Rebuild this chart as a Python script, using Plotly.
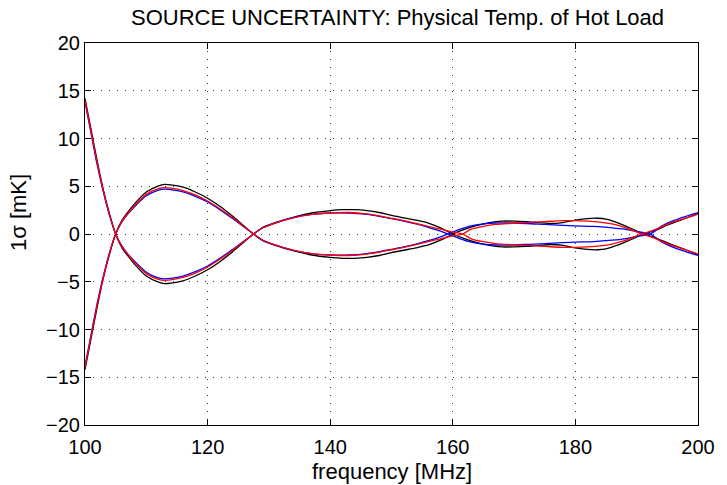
import plotly.graph_objects as go

# ---- data (upper branch; the lower branch is its mirror) ----
freq_black = [100, 101, 102, 103, 104, 105, 106, 107, 108, 110, 112, 113, 114, 116, 118, 120, 122, 124, 126, 127.5,
              129, 131, 134, 137, 140, 142, 144, 146, 148, 150, 152, 154, 156, 158, 160,
              162, 164, 166, 168, 170, 172, 174, 176, 178, 180, 182, 183.6, 185, 187, 189, 191.2,
              193, 195.5, 198, 200]
amp_black = [14.2, 10.9, 7.6, 4.6, 2.1, 0, -1.4, -2.3, -3.1, -4.4, -5.05, -5.2, -5.15, -4.9, -4.4, -3.75, -2.9, -1.9, -0.8, 0,
             0.65, 1.15, 1.75, 2.2, 2.45, 2.55, 2.55, 2.45, 2.25, 1.95, 1.7, 1.45, 1.15, 0.65, 0,
             -0.5, -0.9, -1.2, -1.35, -1.35, -1.3, -1.2, -1.1, -1.2, -1.45, -1.62, -1.65, -1.55, -1.15, -0.6, 0,
             0.4, 1.05, 1.65, 2.15]

freq_red = [100, 101, 102, 103, 104, 105, 106, 107, 108, 110, 112, 113, 114, 116, 118, 120, 122, 124, 126, 127.5,
            129, 131, 134, 137, 140, 143, 146, 148, 150, 152, 154, 156, 158, 160, 161.6,
            163, 165, 167, 169, 172, 175, 178, 180, 182, 184, 186, 188, 190.8,
            193, 195.5, 198, 200]
amp_red = [14.0, 10.7, 7.4, 4.5, 2.0, 0, -1.3, -2.15, -2.9, -4.15, -4.75, -4.85, -4.8, -4.55, -4.1, -3.45, -2.65, -1.75, -0.75, 0,
           0.65, 1.15, 1.7, 2.05, 2.2, 2.25, 2.1, 1.9, 1.65, 1.4, 1.1, 0.8, 0.5, 0.2, 0,
           -0.5, -0.8, -1.0, -1.1, -1.2, -1.3, -1.4, -1.4, -1.35, -1.25, -1.05, -0.7, 0,
           0.45, 1.15, 1.65, 2.1]

freq_blue = [100, 101, 102, 103, 104, 105, 106, 107, 108, 110, 112, 113, 114, 116, 118, 120, 122, 124, 126, 127.5,
             129, 131, 134, 137, 140, 143, 146, 148, 150, 152, 154, 156, 158, 159.2,
             161, 163, 165, 167, 169, 172, 175, 178, 180, 183, 186, 188, 190, 192.2,
             194, 196, 198, 200]
amp_blue = [13.8, 10.5, 7.2, 4.4, 1.95, 0, -1.25, -2.1, -2.8, -4.0, -4.6, -4.7, -4.65, -4.4, -3.95, -3.35, -2.55, -1.65, -0.7, 0,
            0.7, 1.2, 1.75, 2.05, 2.2, 2.2, 2.05, 1.85, 1.6, 1.35, 1.05, 0.7, 0.3, 0,
            -0.45, -0.85, -1.05, -1.15, -1.15, -1.1, -1.0, -0.9, -0.85, -0.8, -0.65, -0.5, -0.25, 0,
            0.8, 1.4, 1.85, 2.25]

x_ticks = [100, 120, 140, 160, 180, 200]
y_ticks = [-20, -15, -10, -5, 0, 5, 10, 15, 20]

title_text = "SOURCE UNCERTAINTY: Physical Temp. of Hot Load"
x_label = "frequency [MHz]"
y_label = "1σ [mK]"

FONT = "Liberation Sans, Arial, Helvetica, sans-serif"
FS = 20      # tick labels
FL = 22      # title and axis labels

fig = go.Figure()
for fx, fy, col in [(freq_black, amp_black, "black"),
                    (freq_blue, amp_blue, "blue"),
                    (freq_red, amp_red, "red")]:
    for sgn in (1, -1):
        fig.add_trace(go.Scatter(
            x=fx, y=[sgn * v for v in fy], mode="lines",
            line=dict(color=col, width=1.3, shape="spline", smoothing=0.8),
            showlegend=False, hoverinfo="skip"))

axis_common = dict(
    showline=True, linecolor="black", linewidth=1.2, mirror="ticks",
    ticks="inside", ticklen=6, tickcolor="black", tickwidth=1,
    showgrid=True, gridcolor="#333333", gridwidth=1, griddash="1px,7px",
    zeroline=False, tickfont=dict(family=FONT, size=FS, color="black"),
)

fig.update_xaxes(range=[100, 200], tickvals=x_ticks, ticktext=[str(v) for v in x_ticks],
                 ticklabelstandoff=4, **axis_common)
fig.update_yaxes(range=[-20, 20], tickvals=y_ticks,
                 ticktext=[("\u2212" + str(-v)) if v < 0 else str(v) for v in y_ticks], **axis_common)

fig.update_layout(
    width=727, height=485,
    margin=dict(l=85, r=22, t=43, b=60),
    paper_bgcolor="white", plot_bgcolor="white",
    font=dict(family=FONT, size=FS, color="black"),
    annotations=[
        dict(text=title_text, xref="paper", yref="paper", x=0.51, y=1.0 + 26 / 382.6,
             xanchor="center", yanchor="middle", showarrow=False,
             font=dict(family=FONT, size=FL, color="black")),
        dict(text=x_label, xref="paper", yref="paper", x=0.5, y=-47 / 382.6,
             xanchor="center", yanchor="middle", showarrow=False,
             font=dict(family=FONT, size=FL, color="black")),
        dict(text=y_label, xref="paper", yref="paper", x=-68 / 620.3, y=0.557,
             xanchor="center", yanchor="middle", showarrow=False, textangle=-90,
             font=dict(family=FONT, size=FL, color="black")),
    ],
)

fig.write_html("out.html")
